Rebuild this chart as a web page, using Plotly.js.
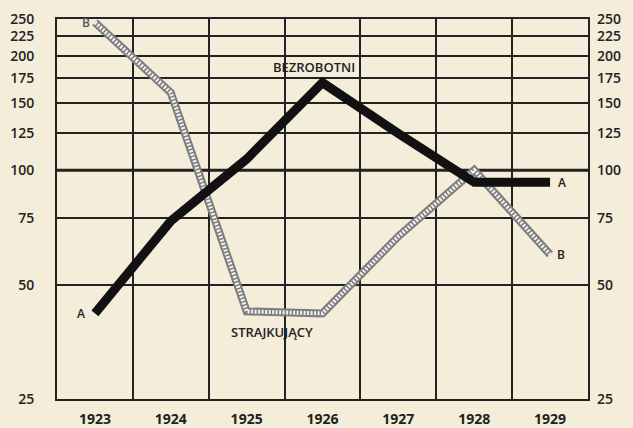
<!DOCTYPE html>
<html>
<head>
<meta charset="utf-8">
<script src="https://cdn.plot.ly/plotly-3.0.1.min.js"></script>
<style>html,body{margin:0;padding:0;background:#f3edd9;}#chart{width:633px;height:428px;}</style>
</head>
<body>
<div id="chart"></div>
<script>
const years = [1923, 1924, 1925, 1926, 1927, 1928, 1929];
const bezrobotni = [42, 73.5, 107, 170, 125, 93, 93];
const strajkujacy = [245, 160, 42.5, 42, 67, 100, 60];
const yTicks = [25, 50, 75, 100, 125, 150, 175, 200, 225, 250];
const xBounds = [1922.5, 1923.5, 1924.5, 1925.5, 1926.5, 1927.5, 1928.5, 1929.5];
const labelA = 'BEZROBOTNI';
const labelB = 'STRAJKUJĄCY';

const ink = '#222';
const font = {family: 'Open Sans, sans-serif', size: 14, color: ink};

const traces = [
  {x: years, y: strajkujacy, mode: 'lines', line: {color: '#7d7d7d', width: 8}, hoverinfo: 'skip'},
  {x: years, y: strajkujacy, mode: 'lines', line: {color: '#f2f2f2', width: 4, dash: '2px,1.5px'}, hoverinfo: 'skip'},
  {x: years, y: bezrobotni, mode: 'lines', line: {color: '#111', width: 9}, hoverinfo: 'skip'},
  {x: years, y: bezrobotni, yaxis: 'y2', mode: 'lines', line: {width: 0}, opacity: 0, hoverinfo: 'skip'}
];

const yBase = {
  type: 'log',
  range: [Math.log10(25), Math.log10(250)],
  tickmode: 'array',
  tickvals: yTicks,
  ticktext: yTicks.map(String),
  ticks: '',
  tickfont: {family: 'Open Sans, sans-serif', size: 14, color: ink, weight: 600},
  fixedrange: true
};

const layout = {
  width: 633, height: 428,
  margin: {l: 57, r: 45, t: 19, b: 29},
  paper_bgcolor: '#f3edd9',
  plot_bgcolor: '#f3edd9',
  showlegend: false,
  font: font,
  xaxis: {
    range: [xBounds[0], xBounds[xBounds.length - 1]],
    tickmode: 'array', tickvals: years, ticktext: years.map(String),
    ticks: '', showgrid: false, zeroline: false,
    ticklabelstandoff: 6,
    tickfont: {family: 'Open Sans, sans-serif', size: 14, color: ink, weight: 700},
    showline: true, linecolor: ink, linewidth: 2, mirror: true,
    minor: {tickmode: 'array', tickvals: xBounds, showgrid: true, gridcolor: ink, gridwidth: 2, ticks: ''}
  },
  yaxis: Object.assign({}, yBase, {
    showgrid: true, gridcolor: ink, gridwidth: 1.8,
    showline: true, linecolor: ink, linewidth: 2, mirror: true,
    ticklabelstandoff: 18
  }),
  yaxis2: Object.assign({}, yBase, {
    overlaying: 'y', side: 'right', showgrid: false, showline: false,
    ticklabelstandoff: 8
  }),
  shapes: [
    {type: 'line', xref: 'paper', yref: 'y', x0: 0, x1: 1, y0: 100, y1: 100, line: {color: ink, width: 3}, layer: 'below'}
  ],
  annotations: [
    {x: years[3], y: Math.log10(bezrobotni[3]), text: labelA, showarrow: false, yshift: 16, xshift: -9, font: {family: 'Open Sans, sans-serif', size: 13, color: ink, weight: 600}},
    {x: (years[2] + years[3]) / 2, y: Math.log10(strajkujacy[2]), text: labelB, showarrow: false, yshift: -21, xshift: -13, font: {family: 'Open Sans, sans-serif', size: 13, color: ink, weight: 600}},
    {x: years[0], y: Math.log10(bezrobotni[0]), text: 'A', showarrow: false, xshift: -14, font: {family: 'Open Sans, sans-serif', size: 12, color: ink, weight: 600}},
    {x: years[6], y: Math.log10(bezrobotni[6]), text: 'A', showarrow: false, xshift: 12, font: {family: 'Open Sans, sans-serif', size: 12, color: ink, weight: 600}},
    {x: years[0], y: Math.log10(strajkujacy[0]), text: 'B', showarrow: false, xshift: -9, font: {family: 'Open Sans, sans-serif', size: 12, color: '#555', weight: 600}},
    {x: years[6], y: Math.log10(strajkujacy[6]), text: 'B', showarrow: false, xshift: 11, font: {family: 'Open Sans, sans-serif', size: 12, color: ink, weight: 600}}
  ]
};

Plotly.newPlot('chart', traces, layout, {staticPlot: true, displayModeBar: false});
</script>
</body>
</html>
